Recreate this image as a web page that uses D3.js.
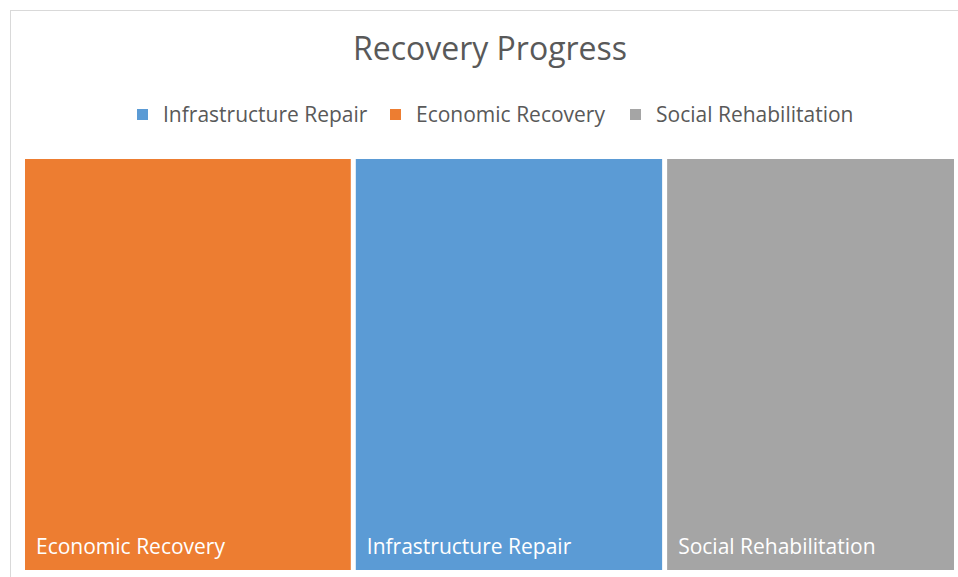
<!DOCTYPE html>
<html>
<head>
<meta charset="utf-8">
<script src="https://cdn.jsdelivr.net/npm/d3@7"></script>
<style>
  body { margin: 0; background: #fff; }
  svg { display: block; font-family: "Open Sans", "Noto Sans", sans-serif; }
</style>
</head>
<body>
<div id="chart"></div>
<script>
"use strict";

// Data, in legend order
var categories = ["Infrastructure Repair", "Economic Recovery", "Social Rehabilitation"];
var values = [80, 85, 75];
var colors = ["#5B9BD5", "#ED7D31", "#A5A5A5"];
var title = "Recovery Progress";

var width = 958;
var height = 577;

var svg = d3.select("#chart")
  .append("svg")
    .attr("width", width)
    .attr("height", height);

// chart area border
svg.append("rect")
  .attr("x", 10.5)
  .attr("y", 10.5)
  .attr("width", width)
  .attr("height", height)
  .attr("fill", "#fff")
  .attr("stroke", "#d9d9d9");

// title
svg.append("text")
  .attr("x", 490)
  .attr("y", 60)
  .attr("text-anchor", "middle")
  .style("font-size", "32px")
  .style("fill", "#595959")
  .text(title);

var color = d3.scaleOrdinal()
  .domain(categories)
  .range(colors);

// legend
var legend = svg.append("g")
  .attr("transform", "translate(0,122)");
var legendX = [137, 390, 630];
var item = legend.selectAll("g")
  .data(categories)
  .enter()
  .append("g")
    .attr("transform", function(d, i) { return "translate(" + legendX[i] + ",0)"; });
item.append("rect")
  .attr("x", 0)
  .attr("y", -13)
  .attr("width", 11)
  .attr("height", 11)
  .attr("fill", function(d) { return color(d); });
item.append("text")
  .attr("x", 26)
  .attr("y", 0)
  .style("font-size", "21px")
  .style("fill", "#595959")
  .text(function(d) { return d; });

// treemap, biggest first, sliced left to right
var root = d3.hierarchy({
    children: categories.map(function(c, i) { return {name: c, value: values[i]}; })
  })
  .sum(function(d) { return d.value; })
  .sort(function(a, b) { return b.value - a.value; });

d3.treemap()
  .tile(d3.treemapDice)
  .size([929, 411])
  .paddingInner(5)
  (root);

var plot = svg.append("g")
  .attr("transform", "translate(25,159)");

var cell = plot.selectAll("g")
  .data(root.leaves())
  .enter()
  .append("g")
    .attr("transform", function(d) { return "translate(" + d.x0 + "," + d.y0 + ")"; });

cell.append("rect")
  .attr("x", 0)
  .attr("y", 0)
  .attr("width", function(d) { return d.x1 - d.x0; })
  .attr("height", function(d) { return d.y1 - d.y0; })
  .attr("fill", function(d) { return color(d.data.name); });

cell.append("text")
  .attr("x", 11)
  .attr("y", function(d) { return d.y1 - d.y0 - 16; })
  .style("font-size", "21px")
  .style("fill", "#fff")
  .text(function(d) { return d.data.name; });
</script>
</body>
</html>
